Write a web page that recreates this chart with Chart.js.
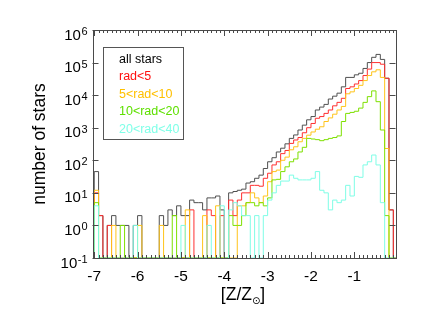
<!DOCTYPE html>
<html>
<head>
<meta charset="utf-8">
<script src="https://cdn.jsdelivr.net/npm/chart.js@4.4.1/dist/chart.umd.min.js"></script>
<style>
  html, body { margin: 0; padding: 0; background: #fff; }
  #wrap { width: 423px; height: 318px; }
</style>
</head>
<body>
<div id="wrap"><canvas id="chart" width="423" height="318"></canvas></div>
<script>
// histogram bins in [Z/Z_sun], 0.1 dex wide, first bin starts at -7.0
const binStart = -7.0;
const binWidth = 0.1;

const seriesLabels = ['all stars', 'rad<5', '5<rad<10', '10<rad<20', '20<rad<40'];
const lineColors = ['#505050', '#ff3030', '#ffc41a', '#7ee000', '#7ffde6'];
const textColors = ['#000000', '#ff1010', '#ffc000', '#5ee000', '#80ffe8'];

// number of stars per bin (70 bins, -7.0 .. 0.0)
const allStars = [
  45, 2, 0, 1, 2, 1, 1, 1, 0, 1,
  2, 0, 0, 0, 0, 2, 1, 3, 2, 4,
  2, 2, 6, 5, 5, 3, 7, 7, 8, 3,
  0, 10, 11, 12, 13, 20, 22, 28, 35, 56,
  90, 120, 180, 235, 320, 470, 600, 850, 1200, 1750,
  2200, 3500, 4300, 5200, 7600, 9300, 11500, 18000, 35000, 35000,
  42000, 47000, 66000, 100000, 145000, 178000, 125000, 33000, 3, 0
];
const rad5 = [
  10, 2, 0, 1, 0, 0, 0, 0, 0, 0,
  0, 0, 0, 0, 0, 0, 0, 0, 0, 0,
  0, 0, 3, 0, 0, 0, 3, 2, 0, 2,
  0, 6, 2, 6, 10, 10, 17, 17, 16, 28,
  40, 72, 90, 160, 200, 330, 420, 500, 700, 1000,
  1350, 1950, 2200, 2750, 3500, 4700, 6000, 8000, 16000, 18000,
  22000, 28000, 40000, 63000, 100000, 100000, 89000, 33000, 3, 0
];
const rad10 = [
  12, 0, 0, 0, 1, 0, 0, 0, 0, 0,
  1, 0, 0, 0, 0, 1, 0, 0, 0, 0,
  0, 3, 0, 0, 0, 2, 0, 0, 4, 0,
  0, 0, 0, 4, 4, 5, 10, 7, 5, 8,
  22, 45, 50, 100, 125, 210, 260, 370, 470, 590,
  740, 900, 1070, 1550, 2000, 2600, 3500, 4500, 11000, 12600,
  16000, 20000, 28000, 40000, 52000, 60000, 35000, 230, 0, 0
];
const rad20 = [
  5, 0, 0, 0, 0, 0, 1, 0, 0, 0,
  0, 0, 0, 0, 0, 0, 0, 0, 2, 0,
  0, 0, 0, 0, 0, 0, 0, 0, 0, 0,
  0, 2, 1, 1, 2, 5, 5, 4, 5, 4,
  7, 25, 26, 45, 63, 90, 110, 180, 250, 470,
  450, 430, 400, 430, 470, 500, 560, 1550, 2750, 2950,
  3200, 4000, 6000, 9000, 13500, 6300, 850, 2, 0, 0
];
const rad40 = [
  4, 0, 0, 0, 0, 0, 0, 0, 0, 1,
  0, 0, 0, 0, 0, 0, 0, 0, 0, 0,
  1, 0, 0, 0, 0, 0, 1, 0, 0, 4,
  0, 3, 5, 4, 2, 2, 0, 2, 0, 2,
  6, 10, 17, 23, 23, 35, 28, 25, 25, 25,
  28, 45, 12, 10, 3, 6, 5, 6, 17, 8,
  32, 30, 72, 90, 145, 72, 5, 0, 0, 0
];

const yTickValues = [0.1, 1, 10, 100, 1000, 10000, 100000, 1000000];
const yTickExps = ['-1', '0', '1', '2', '3', '4', '5', '6'];
const xTickValues = [-7, -6, -5, -4, -3, -2, -1];

const yMin = 0.1, yMax = 1e6;
const xMin = -7.04, xMax = -0.05;
const fontName = '"Liberation Sans", Arial, sans-serif';

// turn bin counts into step points (left edges), empty bins sit on the floor
function stepPoints(counts) {
  const pts = [{ x: binStart, y: yMin }];
  counts.forEach((c, i) => {
    pts.push({ x: +(binStart + i * binWidth).toFixed(2), y: c > 0 ? c : yMin });
  });
  pts.push({ x: +(binStart + counts.length * binWidth).toFixed(2), y: yMin });
  return pts;
}

const allSeries = [allStars, rad5, rad10, rad20, rad40];
const datasets = allSeries.map((counts, i) => ({
  label: seriesLabels[i],
  data: stepPoints(counts),
  borderColor: lineColors[i],
  borderWidth: 1,
  stepped: 'before',
  pointRadius: 0,
  fill: false,
  order: allSeries.length - i
}));

// frame, inward ticks, power-of-ten labels, legend box and x title
const decorations = {
  id: 'decorations',
  afterDatasetsDraw(chart) {
    const { ctx, chartArea: a, scales: { x, y } } = chart;
    ctx.save();
    ctx.strokeStyle = '#4a4a4a';
    ctx.lineWidth = 1;
    ctx.beginPath();
    yTickValues.forEach(v => {
      const py = Math.round(y.getPixelForValue(v)) + 0.5;
      ctx.moveTo(a.left, py); ctx.lineTo(a.left + 6, py);
      ctx.moveTo(a.right, py); ctx.lineTo(a.right - 6, py);
    });
    for (let k = -70; k <= 0; k++) {
      const v = k / 10;
      if (v < xMin || v > xMax) continue;
      const px = Math.round(x.getPixelForValue(v)) + 0.5;
      const len = k % 10 === 0 ? 6 : 3;
      ctx.moveTo(px, a.bottom); ctx.lineTo(px, a.bottom - len);
      ctx.moveTo(px, a.top); ctx.lineTo(px, a.top + len);
    }
    ctx.stroke();
    ctx.strokeRect(Math.round(a.left) + 0.5, Math.round(a.top) + 0.5,
      Math.round(a.right - a.left), Math.round(a.bottom - a.top));

    // y tick labels 10^n
    ctx.fillStyle = '#000';
    ctx.textAlign = 'right';
    ctx.textBaseline = 'alphabetic';
    yTickValues.forEach((v, i) => {
      const py = y.getPixelForValue(v);
      ctx.font = '11px ' + fontName;
      const we = ctx.measureText(yTickExps[i]).width;
      ctx.fillText(yTickExps[i], a.left - 5, py + 5);
      ctx.font = '15px ' + fontName;
      ctx.fillText('10', a.left - 5.5 - we, py + 9.5);
    });

    // legend
    ctx.strokeStyle = '#555';
    ctx.strokeRect(103.5, 47.5, 80, 92);
    ctx.font = '12.5px ' + fontName;
    ctx.textBaseline = 'middle';
    ctx.textAlign = 'left';
    const rows = [59.5, 77, 94.5, 112, 129.5];
    chart.data.datasets.forEach((ds, i) => {
      ctx.fillStyle = textColors[i];
      ctx.fillText(ds.label, 119, rows[i]);
    });

    // x title [Z/Z_sun]
    ctx.fillStyle = '#000';
    const big = '17.5px ' + fontName;
    const small = '10px "DejaVu Sans", sans-serif';
    ctx.font = big;
    const w1 = ctx.measureText('[Z/Z').width;
    const w3 = ctx.measureText(']').width;
    ctx.font = small;
    const w2 = ctx.measureText('\u2299').width;
    const tx = 243 - (w1 + w2 + w3) / 2;
    ctx.textBaseline = 'alphabetic';
    ctx.font = big;
    ctx.fillText('[Z/Z', tx, 300);
    ctx.font = small;
    ctx.fillText('\u2299', tx + w1, 304);
    ctx.font = big;
    ctx.fillText(']', tx + w1 + w2, 300);
    ctx.restore();
  }
};

new Chart(document.getElementById('chart'), {
  type: 'line',
  data: { datasets },
  options: {
    responsive: false,
    animation: false,
    devicePixelRatio: 1,
    layout: { padding: { left: 0, right: 27.5, top: 30, bottom: 0 } },
    plugins: { legend: { display: false }, tooltip: { enabled: false } },
    scales: {
      x: {
        type: 'linear',
        min: xMin,
        max: xMax,
        afterBuildTicks: s => { s.ticks = xTickValues.map(v => ({ value: v })); },
        afterFit: s => { s.height = 60; },
        grid: { display: false, drawTicks: false },
        border: { display: false },
        ticks: {
          color: '#000',
          padding: 9,
          maxRotation: 0,
          font: { family: fontName, size: 15.5 },
          callback: v => String(v)
        }
      },
      y: {
        type: 'logarithmic',
        min: yMin,
        max: yMax,
        afterBuildTicks: s => { s.ticks = yTickValues.map(v => ({ value: v })); },
        afterFit: s => { s.width = 92.5; },
        grid: { display: false, drawTicks: false },
        border: { display: false },
        title: {
          display: true,
          text: 'number of stars',
          color: '#000',
          padding: { top: 30, bottom: 0 },
          font: { family: fontName, size: 17.5 }
        },
        ticks: { display: false }
      }
    }
  },
  plugins: [decorations]
});
</script>
</body>
</html>
